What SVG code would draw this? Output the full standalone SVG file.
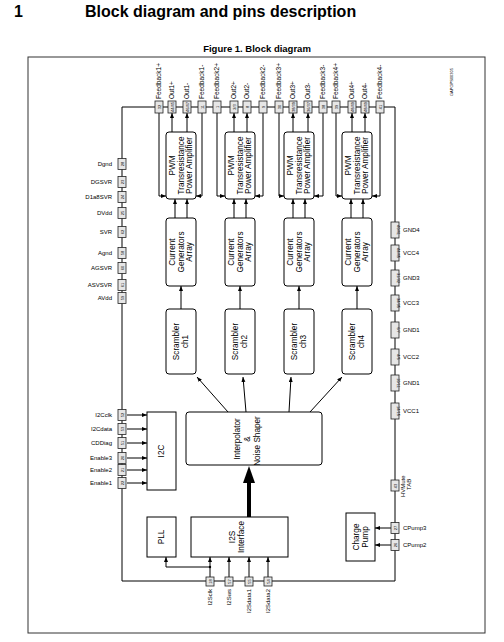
<svg xmlns="http://www.w3.org/2000/svg" width="504" height="642" viewBox="0 0 504 642">
<defs>
<marker id="ah" markerWidth="6" markerHeight="5" refX="5" refY="2" orient="auto" markerUnits="userSpaceOnUse"><path d="M0,0 L5,2 L0,4 z" fill="#000"/></marker>
</defs>
<style>
text{font-family:"Liberation Sans",Arial,sans-serif;fill:#000}
.h{font-size:16px;font-weight:bold}
.fig{font-size:9.5px;font-weight:bold}
.lbl{font-size:6px}
.tl{font-size:6.5px}
.pn{font-size:4px}
.bt{font-size:8.2px}
.pin{fill:#e6e6e6;stroke:#222;stroke-width:0.8}
.blk{fill:#fff;stroke:#000;stroke-width:1}
.ln{fill:none;stroke:#000;stroke-width:1}
.ar{fill:none;stroke:#000;stroke-width:1;marker-end:url(#ah)}
</style>
<rect width="504" height="642" fill="#fff"/>
<text class="h" x="14" y="17">1</text>
<text class="h" x="85" y="17">Block diagram and pins description</text>
<text class="fig" x="257" y="52" text-anchor="middle">Figure 1. Block diagram</text>
<rect x="28" y="57" width="457" height="576" fill="none" stroke="#333" stroke-width="1"/>
<text class="pn" transform="translate(453,96) rotate(-90)">GAPGPS00305</text>

<g id="connectors">
<path class="ln" d="M122,107 H395 V581 H122 Z"/>
<path class="ar" d="M159,113 V196 H166"/>
<path class="ar" d="M202,113 V196 H196"/>
<path class="ar" d="M172,132 V113"/>
<path class="ar" d="M187,132 V113"/>
<path class="ar" d="M175,218 V199"/>
<path class="ar" d="M187,218 V199"/>
<path class="ar" d="M181,309 V286"/>

<path class="ar" d="M217,113 V196 H225"/>
<path class="ar" d="M263,113 V196 H255"/>
<path class="ar" d="M234,132 V113"/>
<path class="ar" d="M247,132 V113"/>
<path class="ar" d="M234,218 V199"/>
<path class="ar" d="M246,218 V199"/>
<path class="ar" d="M240,309 V286"/>

<path class="ar" d="M279,113 V196 H284"/>
<path class="ar" d="M323,113 V196 H314"/>
<path class="ar" d="M293,132 V113"/>
<path class="ar" d="M308,132 V113"/>
<path class="ar" d="M293,218 V199"/>
<path class="ar" d="M305,218 V199"/>
<path class="ar" d="M299,309 V286"/>

<path class="ar" d="M336,113 V196 H342"/>
<path class="ar" d="M380,113 V196 H372"/>
<path class="ar" d="M352,132 V113"/>
<path class="ar" d="M365,132 V113"/>
<path class="ar" d="M351,218 V199"/>
<path class="ar" d="M363,218 V199"/>
<path class="ar" d="M357,309 V286"/>

<path class="ar" d="M228,412 L197,377"/>
<path class="ar" d="M246,412 L243,377"/>
<path class="ar" d="M289,412 L291,377"/>
<path class="ar" d="M310,412 L342,377"/>
<rect x="247" y="482" width="4" height="35" fill="#000"/>
<path d="M243,483 L255,483 L249,466 Z" fill="#000"/>
<path class="ar" d="M127,415 H147"/>
<path class="ar" d="M127,429 H147"/>
<path class="ar" d="M127,443 H147"/>
<path class="ar" d="M127,458 H147"/>
<path class="ar" d="M127,470 H147"/>
<path class="ar" d="M127,483 H147"/>
<path class="ar" d="M210,577 V557"/>
<path class="ar" d="M229,577 V557"/>
<path class="ar" d="M249,577 V557"/>
<path class="ar" d="M268,577 V557"/>
<path class="ar" d="M210,567 H166 V557"/>
<circle cx="210" cy="567" r="1.2" fill="#000"/>
<path class="ar" d="M391,528 H375"/>
<path class="ar" d="M391,545 H375"/>
</g>

<g id="top-pins">
<rect class="pin" x="155" y="101" width="8" height="12"/><text class="pn" transform="translate(160.5,107) rotate(-90)" text-anchor="middle">32</text><text class="tl" transform="translate(161.3,99) rotate(-90)">Feedback1+</text>
<rect class="pin" x="168" y="101" width="8" height="12"/><text class="pn" transform="translate(173.5,107) rotate(-90)" text-anchor="middle">44/45</text><text class="tl" transform="translate(174.3,99) rotate(-90)">Out1+</text>
<rect class="pin" x="183" y="101" width="8" height="12"/><text class="pn" transform="translate(188.5,107) rotate(-90)" text-anchor="middle">46/47</text><text class="tl" transform="translate(189.3,99) rotate(-90)">Out1-</text>
<rect class="pin" x="198" y="101" width="8" height="12"/><text class="pn" transform="translate(203.5,107) rotate(-90)" text-anchor="middle">11</text><text class="tl" transform="translate(204.3,99) rotate(-90)">Feedback1-</text>
<rect class="pin" x="213" y="101" width="8" height="12"/><text class="pn" transform="translate(218.5,107) rotate(-90)" text-anchor="middle">1</text><text class="tl" transform="translate(219.3,99) rotate(-90)">Feedback2+</text>
<rect class="pin" x="230" y="101" width="8" height="12"/><text class="pn" transform="translate(235.5,107) rotate(-90)" text-anchor="middle">2/3</text><text class="tl" transform="translate(236.3,99) rotate(-90)">Out2+</text>
<rect class="pin" x="243" y="101" width="8" height="12"/><text class="pn" transform="translate(248.5,107) rotate(-90)" text-anchor="middle">8</text><text class="tl" transform="translate(249.3,99) rotate(-90)">Out2-</text>
<rect class="pin" x="259" y="101" width="8" height="12"/><text class="pn" transform="translate(264.5,107) rotate(-90)" text-anchor="middle">9</text><text class="tl" transform="translate(265.3,99) rotate(-90)">Feedback2-</text>
<rect class="pin" x="275" y="101" width="8" height="12"/><text class="pn" transform="translate(280.5,107) rotate(-90)" text-anchor="middle">30</text><text class="tl" transform="translate(281.3,99) rotate(-90)">Feedback3+</text>
<rect class="pin" x="289" y="101" width="8" height="12"/><text class="pn" transform="translate(294.5,107) rotate(-90)" text-anchor="middle">38/39</text><text class="tl" transform="translate(295.3,99) rotate(-90)">Out3+</text>
<rect class="pin" x="304" y="101" width="8" height="12"/><text class="pn" transform="translate(309.5,107) rotate(-90)" text-anchor="middle">36/37</text><text class="tl" transform="translate(310.3,99) rotate(-90)">Out3-</text>
<rect class="pin" x="319" y="101" width="8" height="12"/><text class="pn" transform="translate(324.5,107) rotate(-90)" text-anchor="middle">38</text><text class="tl" transform="translate(325.3,99) rotate(-90)">Feedback3-</text>
<rect class="pin" x="332" y="101" width="8" height="12"/><text class="pn" transform="translate(337.5,107) rotate(-90)" text-anchor="middle">39</text><text class="tl" transform="translate(338.3,99) rotate(-90)">Feedback4+</text>
<rect class="pin" x="348" y="101" width="8" height="12"/><text class="pn" transform="translate(353.5,107) rotate(-90)" text-anchor="middle">48/49</text><text class="tl" transform="translate(354.3,99) rotate(-90)">Out4+</text>
<rect class="pin" x="361" y="101" width="8" height="12"/><text class="pn" transform="translate(366.5,107) rotate(-90)" text-anchor="middle">48/49</text><text class="tl" transform="translate(367.3,99) rotate(-90)">Out4-</text>
<rect class="pin" x="376" y="101" width="8" height="12"/><text class="pn" transform="translate(381.5,107) rotate(-90)" text-anchor="middle">41</text><text class="tl" transform="translate(382.3,99) rotate(-90)">Feedback4-</text>
</g>

<g id="left-pins">
<rect class="pin" x="118" y="158.5" width="8" height="11"/><text class="pn" transform="translate(123.5,164) rotate(-90)" text-anchor="middle">28</text><text class="lbl" x="112" y="166" text-anchor="end">Dgnd</text>
<rect class="pin" x="118" y="176.5" width="8" height="11"/><text class="pn" transform="translate(123.5,182) rotate(-90)" text-anchor="middle">23</text><text class="lbl" x="112" y="184" text-anchor="end">DGSVR</text>
<rect class="pin" x="118" y="191.5" width="8" height="11"/><text class="pn" transform="translate(123.5,197) rotate(-90)" text-anchor="middle">24</text><text class="lbl" x="112" y="199" text-anchor="end">D1a8SVR</text>
<rect class="pin" x="118" y="207.5" width="8" height="11"/><text class="pn" transform="translate(123.5,213) rotate(-90)" text-anchor="middle">25</text><text class="lbl" x="112" y="215" text-anchor="end">DVdd</text>
<rect class="pin" x="118" y="226.5" width="8" height="11"/><text class="pn" transform="translate(123.5,232) rotate(-90)" text-anchor="middle">62</text><text class="lbl" x="112" y="234" text-anchor="end">SVR</text>
<rect class="pin" x="118" y="247.5" width="8" height="11"/><text class="pn" transform="translate(123.5,253) rotate(-90)" text-anchor="middle">58</text><text class="lbl" x="112" y="255" text-anchor="end">Agnd</text>
<rect class="pin" x="118" y="262.5" width="8" height="11"/><text class="pn" transform="translate(123.5,268) rotate(-90)" text-anchor="middle">60</text><text class="lbl" x="112" y="270" text-anchor="end">AGSVR</text>
<rect class="pin" x="118" y="279.5" width="8" height="11"/><text class="pn" transform="translate(123.5,285) rotate(-90)" text-anchor="middle">61</text><text class="lbl" x="112" y="287" text-anchor="end">ASVSVR</text>
<rect class="pin" x="118" y="292.5" width="8" height="11"/><text class="pn" transform="translate(123.5,298) rotate(-90)" text-anchor="middle">59</text><text class="lbl" x="112" y="300" text-anchor="end">AVdd</text>
</g>

<g id="i2c-pins">
<rect class="pin" x="118" y="409.5" width="8" height="11"/><text class="pn" transform="translate(123.5,415) rotate(-90)" text-anchor="middle">52</text><text class="lbl" x="112" y="417" text-anchor="end">I2Cclk</text>
<rect class="pin" x="118" y="423.5" width="8" height="11"/><text class="pn" transform="translate(123.5,429) rotate(-90)" text-anchor="middle">53</text><text class="lbl" x="112" y="431" text-anchor="end">I2Cdata</text>
<rect class="pin" x="118" y="437.5" width="8" height="11"/><text class="pn" transform="translate(123.5,443) rotate(-90)" text-anchor="middle">51</text><text class="lbl" x="112" y="445" text-anchor="end">CDDiag</text>
<rect class="pin" x="118" y="452.5" width="8" height="11"/><text class="pn" transform="translate(123.5,458) rotate(-90)" text-anchor="middle">20</text><text class="lbl" x="112" y="460" text-anchor="end">Enable3</text>
<rect class="pin" x="118" y="464.5" width="8" height="11"/><text class="pn" transform="translate(123.5,470) rotate(-90)" text-anchor="middle">21</text><text class="lbl" x="112" y="472" text-anchor="end">Enable2</text>
<rect class="pin" x="118" y="477.5" width="8" height="11"/><text class="pn" transform="translate(123.5,483) rotate(-90)" text-anchor="middle">22</text><text class="lbl" x="112" y="485" text-anchor="end">Enable1</text>
</g>

<g id="right-pins">
<rect class="pin" x="391" y="222" width="8" height="16"/><text class="pn" transform="translate(396.5,230) rotate(90)" text-anchor="middle">40/41</text><text class="lbl" x="403" y="232">GND4</text>
<rect class="pin" x="391" y="245" width="8" height="16"/><text class="pn" transform="translate(396.5,253) rotate(90)" text-anchor="middle">44/45</text><text class="lbl" x="403" y="255">VCC4</text>
<rect class="pin" x="391" y="270" width="8" height="16"/><text class="pn" transform="translate(396.5,278) rotate(90)" text-anchor="middle">31/32</text><text class="lbl" x="403" y="280">GND3</text>
<rect class="pin" x="391" y="295" width="8" height="16"/><text class="pn" transform="translate(396.5,303) rotate(90)" text-anchor="middle">34/35</text><text class="lbl" x="403" y="305">VCC3</text>
<rect class="pin" x="391" y="322" width="8" height="16"/><text class="pn" transform="translate(396.5,330) rotate(90)" text-anchor="middle">6/7</text><text class="lbl" x="403" y="332">GND1</text>
<rect class="pin" x="391" y="349" width="8" height="16"/><text class="pn" transform="translate(396.5,357) rotate(90)" text-anchor="middle">4/5</text><text class="lbl" x="403" y="359">VCC2</text>
<rect class="pin" x="391" y="375" width="8" height="16"/><text class="pn" transform="translate(396.5,383) rotate(90)" text-anchor="middle">10/11</text><text class="lbl" x="403" y="385">GND1</text>
<rect class="pin" x="391" y="403" width="8" height="16"/><text class="pn" transform="translate(396.5,411) rotate(90)" text-anchor="middle">14/15</text><text class="lbl" x="403" y="413">VCC1</text>
<rect class="pin" x="391" y="480" width="8" height="11"/><text class="pn" transform="translate(396.5,486) rotate(-90)" text-anchor="middle">43</text>
<text class="lbl" transform="translate(405,497) rotate(-90)">HVMute</text>
<text class="lbl" transform="translate(411,490) rotate(-90)">TAB</text>
</g>

<g id="cpump-pins">
<rect class="pin" x="391" y="522.5" width="8" height="11"/><text class="pn" transform="translate(396.5,528) rotate(-90)" text-anchor="middle">27</text><text class="lbl" x="403" y="530">CPump3</text>
<rect class="pin" x="391" y="539.5" width="8" height="11"/><text class="pn" transform="translate(396.5,545) rotate(-90)" text-anchor="middle">26</text><text class="lbl" x="403" y="547">CPump2</text>
</g>

<g id="bottom-pins">
<rect class="pin" x="206" y="577" width="8" height="9"/><text class="pn" transform="translate(211.5,581.5) rotate(-90)" text-anchor="middle">18</text><text class="lbl" transform="translate(212,589) rotate(-90)" text-anchor="end">I2Sclk</text>
<rect class="pin" x="225" y="577" width="8" height="9"/><text class="pn" transform="translate(230.5,581.5) rotate(-90)" text-anchor="middle">57</text><text class="lbl" transform="translate(231,589) rotate(-90)" text-anchor="end">I2Sws</text>
<rect class="pin" x="245" y="577" width="8" height="9"/><text class="pn" transform="translate(250.5,581.5) rotate(-90)" text-anchor="middle">55</text><text class="lbl" transform="translate(251,589) rotate(-90)" text-anchor="end">I2Sdata1</text>
<rect class="pin" x="264" y="577" width="8" height="9"/><text class="pn" transform="translate(269.5,581.5) rotate(-90)" text-anchor="middle">54</text><text class="lbl" transform="translate(270,589) rotate(-90)" text-anchor="end">I2Sdata2</text>
</g>

<g id="pwm1"><rect class="blk" x="166" y="132" width="30" height="67" rx="3"/><text class="bt" transform="translate(181,165.5) rotate(-90)" text-anchor="middle"><tspan x="0" y="-6">PWM</tspan><tspan x="0" y="2.5">Transresistance</tspan><tspan x="0" y="11">Power Amplifier</tspan></text></g>
<g id="pwm2"><rect class="blk" x="225" y="132" width="30" height="67" rx="3"/><text class="bt" transform="translate(240,165.5) rotate(-90)" text-anchor="middle"><tspan x="0" y="-6">PWM</tspan><tspan x="0" y="2.5">Transresistance</tspan><tspan x="0" y="11">Power Amplifier</tspan></text></g>
<g id="pwm3"><rect class="blk" x="284" y="132" width="30" height="67" rx="3"/><text class="bt" transform="translate(299,165.5) rotate(-90)" text-anchor="middle"><tspan x="0" y="-6">PWM</tspan><tspan x="0" y="2.5">Transresistance</tspan><tspan x="0" y="11">Power Amplifier</tspan></text></g>
<g id="pwm4"><rect class="blk" x="342" y="132" width="30" height="67" rx="3"/><text class="bt" transform="translate(357,165.5) rotate(-90)" text-anchor="middle"><tspan x="0" y="-6">PWM</tspan><tspan x="0" y="2.5">Transresistance</tspan><tspan x="0" y="11">Power Amplifier</tspan></text></g>

<g id="cga1"><rect class="blk" x="166" y="218" width="30" height="68" rx="3"/><text class="bt" transform="translate(181,252) rotate(-90)" text-anchor="middle"><tspan x="0" y="-6">Current</tspan><tspan x="0" y="2.5">Generators</tspan><tspan x="0" y="11">Array</tspan></text></g>
<g id="cga2"><rect class="blk" x="225" y="218" width="30" height="68" rx="3"/><text class="bt" transform="translate(240,252) rotate(-90)" text-anchor="middle"><tspan x="0" y="-6">Current</tspan><tspan x="0" y="2.5">Generators</tspan><tspan x="0" y="11">Array</tspan></text></g>
<g id="cga3"><rect class="blk" x="284" y="218" width="30" height="68" rx="3"/><text class="bt" transform="translate(299,252) rotate(-90)" text-anchor="middle"><tspan x="0" y="-6">Current</tspan><tspan x="0" y="2.5">Generators</tspan><tspan x="0" y="11">Array</tspan></text></g>
<g id="cga4"><rect class="blk" x="342" y="218" width="30" height="68" rx="3"/><text class="bt" transform="translate(357,252) rotate(-90)" text-anchor="middle"><tspan x="0" y="-6">Current</tspan><tspan x="0" y="2.5">Generators</tspan><tspan x="0" y="11">Array</tspan></text></g>

<g id="scr1"><rect class="blk" x="166" y="309" width="30" height="65" rx="3"/><text class="bt" transform="translate(181,341.5) rotate(-90)" text-anchor="middle"><tspan x="0" y="-2">Scrambler</tspan><tspan x="0" y="7">ch1</tspan></text></g>
<g id="scr2"><rect class="blk" x="225" y="309" width="30" height="65" rx="3"/><text class="bt" transform="translate(240,341.5) rotate(-90)" text-anchor="middle"><tspan x="0" y="-2">Scrambler</tspan><tspan x="0" y="7">ch2</tspan></text></g>
<g id="scr3"><rect class="blk" x="284" y="309" width="30" height="65" rx="3"/><text class="bt" transform="translate(299,341.5) rotate(-90)" text-anchor="middle"><tspan x="0" y="-2">Scrambler</tspan><tspan x="0" y="7">ch3</tspan></text></g>
<g id="scr4"><rect class="blk" x="342" y="309" width="30" height="65" rx="3"/><text class="bt" transform="translate(357,341.5) rotate(-90)" text-anchor="middle"><tspan x="0" y="-2">Scrambler</tspan><tspan x="0" y="7">ch4</tspan></text></g>

<g id="interp"><rect class="blk" x="186" y="412" width="136" height="53" rx="3"/><text class="bt" transform="translate(247,439) rotate(-90)" text-anchor="middle"><tspan x="0" y="-7">Interpolator</tspan><tspan x="0" y="3">&amp;</tspan><tspan x="-2" y="13">Noise  Shaper</tspan></text></g>
<g id="i2c"><rect class="blk" x="147" y="412" width="29" height="78"/><text class="bt" transform="translate(164,451) rotate(-90)" text-anchor="middle">I2C</text></g>
<g id="pll"><rect class="blk" x="147" y="517" width="29" height="40"/><text class="bt" transform="translate(164,537) rotate(-90)" text-anchor="middle">PLL</text></g>
<g id="i2s"><rect class="blk" x="191" y="517" width="97" height="40"/><text class="bt" transform="translate(237,537) rotate(-90)" text-anchor="middle"><tspan x="0" y="-2">I2S</tspan><tspan x="0" y="7">Interface</tspan></text></g>
<g id="cpump"><rect class="blk" x="346" y="513" width="29" height="48"/><text class="bt" transform="translate(360.5,537) rotate(-90)" text-anchor="middle"><tspan x="0" y="-2">Charge</tspan><tspan x="0" y="7">Pump</tspan></text></g>
</svg>
